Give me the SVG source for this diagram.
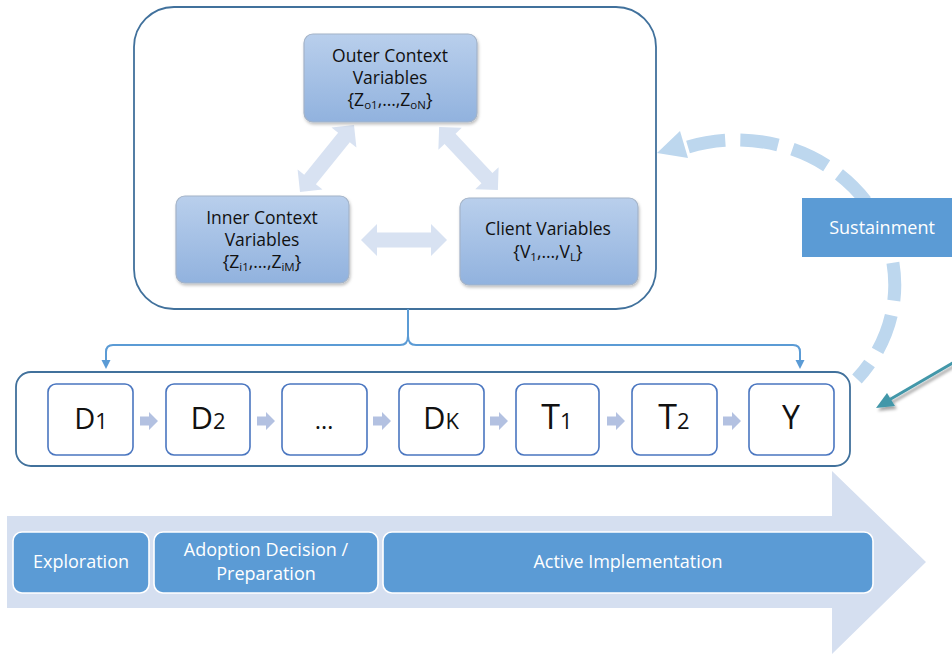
<svg xmlns="http://www.w3.org/2000/svg" width="952" height="654" viewBox="0 0 952 654">
  <defs>
    <linearGradient id="varFill" x1="0" y1="0" x2="0" y2="1">
      <stop offset="0" stop-color="#b9cfec"/>
      <stop offset="1" stop-color="#91b2de"/>
    </linearGradient>
    <filter id="soft" x="-10%" y="-10%" width="125%" height="130%">
      <feDropShadow dx="1" dy="2" stdDeviation="1.5" flood-color="#000" flood-opacity="0.25"/>
    </filter>
    <filter id="tealShadow" x="-20%" y="-20%" width="150%" height="160%">
      <feDropShadow dx="2" dy="3" stdDeviation="1.5" flood-color="#000" flood-opacity="0.35"/>
    </filter>
    <!-- two-headed block arrow, 86 long, centred on the origin -->
    <path id="dbl" d="M-43,0 L-27,-16 L-27,-7.5 L27,-7.5 L27,-16 L43,0 L27,16 L27,7.5 L-27,7.5 L-27,16 Z"/>
    <!-- small step arrow between the sequence boxes -->
    <path id="step" d="M0,-4.5 L9,-4.5 L9,-9 L18,0 L9,9 L9,4.5 L0,4.5 Z"/>
  </defs>
  <style>
    .container { fill: #ffffff; stroke: #41719c; stroke-width: 1.8; }
    .var { fill: url(#varFill); stroke: #a3b3c8; stroke-width: 1.2; filter: url(#soft); }
    .varText { font-family: "Open Sans", "Liberation Sans", sans-serif; font-size: 17.5px; fill: #111; text-anchor: middle; }
    .sub { font-size: 11.5px; }
    .link { fill: #d8e2f2; }
    .seq { fill: #ffffff; stroke: #4a76c0; stroke-width: 1.6; }
    .seqText { font-family: "Open Sans", "Liberation Sans", sans-serif; fill: #111; text-anchor: middle; }
    .step { fill: #b3c1e1; }
    .bracket { fill: none; stroke: #5b9bd5; stroke-width: 2; }
    .phase { fill: #5b9bd5; stroke: #ffffff; stroke-width: 1.6; }
    .phaseText { font-family: "Open Sans", "Liberation Sans", sans-serif; font-size: 18px; fill: #ffffff; text-anchor: middle; }
    .loop { fill: none; stroke: #bdd7ee; stroke-width: 13; stroke-dasharray: 38 15; }
  </style>

  <!-- timeline arrow behind the phases -->
  <polygon id="timeline" points="7,516 832,516 832,471 926,562 832,654 832,608 7,608" fill="#d5dff0"/>

  <!-- phases -->
  <g id="phase-exploration">
    <rect class="phase" x="13" y="532" width="136" height="61" rx="9"/>
    <text class="phaseText" x="81" y="568">Exploration</text>
  </g>
  <g id="phase-adoption">
    <rect class="phase" x="154" y="532" width="224" height="61" rx="9"/>
    <text class="phaseText" x="266" y="556">Adoption Decision /</text>
    <text class="phaseText" x="266" y="580">Preparation</text>
  </g>
  <g id="phase-implementation">
    <rect class="phase" x="383" y="532" width="490" height="61" rx="9"/>
    <text class="phaseText" x="628" y="568">Active Implementation</text>
  </g>

  <!-- context container -->
  <g id="context">
    <rect class="container" x="134" y="7" width="522" height="302" rx="40"/>
  </g>

  <!-- sequence container -->
  <g id="sequence">
    <rect class="container" x="16" y="372" width="834" height="94" rx="15"/>
  </g>

  <g id="connectors">
    <!-- links between the variable groups -->
    <use href="#dbl" class="link" transform="translate(327,158.5) rotate(-51.1)"/>
    <use href="#dbl" class="link" transform="translate(468.5,158.5) rotate(46.9)"/>
    <use href="#dbl" class="link" transform="translate(404,240)"/>

    <!-- flow along the sequence -->
    <use href="#step" class="step" transform="translate(140,421)"/>
    <use href="#step" class="step" transform="translate(257,421)"/>
    <use href="#step" class="step" transform="translate(373,421)"/>
    <use href="#step" class="step" transform="translate(490,421)"/>
    <use href="#step" class="step" transform="translate(607,421)"/>
    <use href="#step" class="step" transform="translate(723,421)"/>

    <!-- brace from the context container down to the sequence -->
    <path class="bracket" d="M408,309 L408,336 Q408,345 400,345 L113,345 Q106,345 106,352 L106,361"/>
    <path class="bracket" d="M408,336 Q408,345 416,345 L793,345 Q800,345 800,352 L800,361"/>
    <path d="M101.5,360 L110.5,360 L106,369 Z" fill="#5b9bd5"/>
    <path d="M795.5,360 L804.5,360 L800,369 Z" fill="#5b9bd5"/>

    <!-- sustainment loop back to the context -->
    <path class="loop" d="M688,147 A158 145 0 0 1 857,379"/>
    <polygon points="657,153 680,131 688,158" fill="#bdd7ee"/>

    <!-- incoming pointer -->
    <g filter="url(#tealShadow)">
      <line x1="956" y1="361" x2="889" y2="400" stroke="#4397a9" stroke-width="3"/>
      <polygon points="876,408 887,393 895,406" fill="#4397a9"/>
    </g>
  </g>

  <g id="outer-context">
    <rect class="var" x="304" y="34" width="173" height="88" rx="9"/>
    <text class="varText" x="390" y="62">Outer Context</text>
    <text class="varText" x="390" y="84">Variables</text>
    <text class="varText" x="390" y="106">{Z<tspan class="sub" dy="3">o1</tspan><tspan dy="-3">,…,Z</tspan><tspan class="sub" dy="3">oN</tspan><tspan dy="-3">}</tspan></text>
  </g>
  <g id="inner-context">
    <rect class="var" x="176" y="196" width="173" height="87" rx="9"/>
    <text class="varText" x="262" y="224">Inner Context</text>
    <text class="varText" x="262" y="246">Variables</text>
    <text class="varText" x="262" y="268">{Z<tspan class="sub" dy="3">i1</tspan><tspan dy="-3">,…,Z</tspan><tspan class="sub" dy="3">iM</tspan><tspan dy="-3">}</tspan></text>
  </g>
  <g id="client">
    <rect class="var" x="460" y="198" width="178" height="87" rx="9"/>
    <text class="varText" x="548" y="235">Client Variables</text>
    <text class="varText" x="548" y="258">{V<tspan class="sub" dy="3">1</tspan><tspan dy="-3">,…,V</tspan><tspan class="sub" dy="3">L</tspan><tspan dy="-3">}</tspan></text>
  </g>

  <g id="d1">
    <rect class="seq" x="48" y="384" width="85" height="71" rx="8"/>
    <text class="seqText" x="91" y="429"><tspan font-size="29">D</tspan><tspan font-size="22">1</tspan></text>
  </g>
  <g id="d2">
    <rect class="seq" x="166" y="384" width="84" height="71" rx="8"/>
    <text class="seqText" x="208" y="429"><tspan font-size="31">D</tspan><tspan font-size="22">2</tspan></text>
  </g>
  <g id="dots">
    <rect class="seq" x="282" y="384" width="85" height="71" rx="8"/>
    <text class="seqText" x="324" y="429" font-size="24">…</text>
  </g>
  <g id="dk">
    <rect class="seq" x="399" y="384" width="85" height="71" rx="8"/>
    <text class="seqText" x="441" y="429"><tspan font-size="31">D</tspan><tspan font-size="22">K</tspan></text>
  </g>
  <g id="t1">
    <rect class="seq" x="516" y="384" width="83" height="71" rx="8"/>
    <text class="seqText" x="557" y="429"><tspan font-size="34">T</tspan><tspan font-size="22">1</tspan></text>
  </g>
  <g id="t2">
    <rect class="seq" x="632" y="384" width="85" height="71" rx="8"/>
    <text class="seqText" x="674" y="429"><tspan font-size="34">T</tspan><tspan font-size="22">2</tspan></text>
  </g>
  <g id="y">
    <rect class="seq" x="749" y="384" width="85" height="71" rx="8"/>
    <text class="seqText" x="791" y="429" font-size="32">Y</text>
  </g>

  <!-- sustainment label -->
  <g id="sustainment">
    <rect x="802" y="198" width="160" height="59" fill="#5b9bd5"/>
    <text class="phaseText" x="882" y="234">Sustainment</text>
  </g>
</svg>
